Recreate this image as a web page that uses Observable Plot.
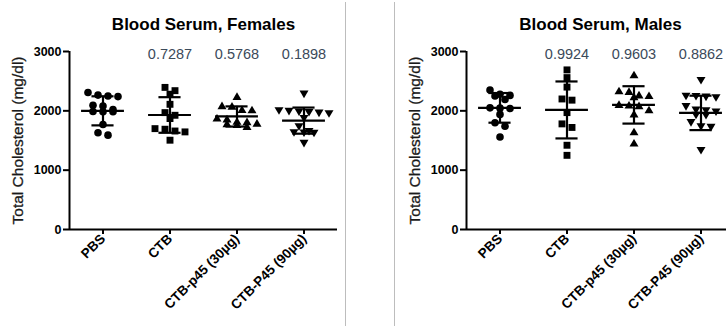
<!DOCTYPE html>
<html>
<head>
<meta charset="utf-8">
<script src="https://cdn.jsdelivr.net/npm/d3@7"></script>
<script src="https://cdn.jsdelivr.net/npm/@observablehq/plot@0.6"></script>
<style>
  body { margin: 0; background: white; }
  #wrap { position: relative; width: 726px; height: 328px; overflow: hidden; background: white; font-family: "Liberation Sans", Arial, sans-serif; }
  .panel { position: absolute; top: 0; width: 345px; height: 328px; }
  .panel svg { max-width: none !important; }
  .divider { position: absolute; top: 2px; width: 1px; height: 324px; background: #bdbdbd; }
</style>
</head>
<body>
<div id="wrap">
  <div class="panel" id="left" style="left:0px"></div>
  <div class="divider" style="left:345px"></div>
  <div class="divider" style="left:394px"></div>
  <div class="panel" id="right" style="left:397px"></div>
</div>
<script>
// ---- data ----
const groups = ["PBS", "CTB", "CTB-p45 (30\u00b5g)", "CTB-P45 (90\u00b5g)"];
const yTicks = [0, 1000, 2000, 3000];

const femalesPBS = [2310, 2265, 2250, 2240, 2095, 2080, 2020, 1990, 1985, 1985, 1770, 1630, 1590];
const femalesCTB = [2395, 2340, 2280, 2110, 1970, 1925, 1870, 1700, 1690, 1660, 1645, 1505];
const femalesP30 = [2235, 2080, 2070, 2015, 2010, 1870, 1855, 1815, 1810, 1785, 1775, 1760, 1730];
const femalesP90 = [2290, 2010, 2000, 1990, 1980, 1970, 1960, 1880, 1740, 1660, 1640, 1635, 1630, 1460];
const femaleMeans = [2000, 1930, 1905, 1835];
const femaleSDs = [245, 300, 170, 220];
const femalePValues = ["", "0.7287", "0.5768", "0.1898"];

const malesPBS = [2350, 2280, 2260, 2250, 2190, 2050, 2045, 2040, 1940, 1800, 1740, 1560];
const malesCTB = [2690, 2560, 2400, 2200, 2180, 1970, 1780, 1720, 1420, 1250];
const malesP30 = [2600, 2330, 2320, 2260, 2250, 2230, 2100, 2090, 2080, 2010, 1940, 1640, 1450];
const malesP90 = [2520, 2255, 2250, 2240, 2230, 2080, 2020, 2010, 1990, 1935, 1930, 1810, 1740, 1730, 1340];
const maleMeans = [2050, 2015, 2100, 1965];
const maleSDs = [250, 480, 315, 290];
const malePValues = ["", "0.9924", "0.9603", "0.8862"];

// ---- symbols ----
const triUp = { draw(ctx, size) { const r = Math.sqrt(size / Math.PI); const w = r * 1.15, h = r * 1.95;
  ctx.moveTo(0, -h * 0.6); ctx.lineTo(w, h * 0.4); ctx.lineTo(-w, h * 0.4); ctx.closePath(); } };
const triDown = { draw(ctx, size) { const r = Math.sqrt(size / Math.PI); const w = r * 1.15, h = r * 1.95;
  ctx.moveTo(0, h * 0.6); ctx.lineTo(w, -h * 0.4); ctx.lineTo(-w, -h * 0.4); ctx.closePath(); } };
const symbols = ["circle", "square", triUp, triDown];
const radii = [3.8, 3.9, 3.9, 3.9];

const W = 345, H = 328, ML = 69, MR = 8, MT = 51, MB = 99;
const bandPx = (W - ML - MR) / 4;
const pxPerUnit = (H - MT - MB) / 3000;
const font = "'Liberation Sans', Arial, sans-serif";

// GraphPad-like scatter: points with similar values share a row and are spread sideways
function spread(values, gi) {
  const order = values.map((v, i) => i).sort((a, b) => values[b] - values[a]);
  const rowH = 5.5 / pxPerUnit, spacing = 10;
  const rows = [];
  for (const i of order) {
    const row = rows[rows.length - 1];
    if (row && values[row[0]] - values[i] < rowH) row.push(i); else rows.push([i]);
  }
  const out = [];
  for (const row of rows) {
    const k = row.length;
    row.forEach((i, j) => {
      const off = (j - (k - 1) / 2) * spacing / bandPx;
      out.push({ g: gi, x: gi + off, value: values[i] });
    });
  }
  return out;
}

function panel(title, series, means, sds, pvals) {
  const stats = means.map((m, i) => ({ i, mean: m, lo: m - sds[i], hi: m + sds[i] }));
  const pts = series.map((vals, gi) => spread(vals, gi));
  const pData = pvals.map((p, i) => ({ i, p })).filter(d => d.p);
  return Plot.plot({
    width: W, height: H,
    marginLeft: ML, marginRight: MR, marginTop: MT, marginBottom: MB,
    style: { fontFamily: font, background: "transparent", color: "black", overflow: "visible" },
    x: { domain: [-0.5, 3.5] },
    y: { domain: [0, 3000] },
    marks: [
      ...pts.map((p, gi) => Plot.dot(p, { x: "x", y: "value", symbol: () => symbols[gi], r: radii[gi], fill: "black", stroke: "none" })),
      Plot.ruleY(stats, { y: "mean", x1: d => d.i - 0.32, x2: d => d.i + 0.32, stroke: "black", strokeWidth: 2.2 }),
      Plot.ruleY(stats, { y: "hi", x1: d => d.i - 0.165, x2: d => d.i + 0.165, stroke: "black", strokeWidth: 2.2 }),
      Plot.ruleY(stats, { y: "lo", x1: d => d.i - 0.165, x2: d => d.i + 0.165, stroke: "black", strokeWidth: 2.2 }),
      Plot.ruleX(stats, { x: "i", y1: "lo", y2: "hi", stroke: "black", strokeWidth: 2.2 }),
      Plot.ruleY([0], { stroke: "black", strokeWidth: 2 }),
      Plot.ruleX([-0.5], { stroke: "black", strokeWidth: 2 }),
      Plot.axisY({ ticks: yTicks, tickFormat: d => String(d), tickSize: 6, tickPadding: 2, strokeWidth: 2,
        fontSize: 12.5, fontWeight: "bold", label: null }),
      Plot.axisX({ ticks: [0, 1, 2, 3], tickFormat: i => groups[i], tickSize: 5, tickPadding: 2, strokeWidth: 2,
        tickRotate: -45, fontSize: 13.5, fontWeight: "bold", label: null }),
      Plot.text(["Total Cholesterol (mg/dl)"], { frameAnchor: "left", dx: -51, rotate: -90, textAnchor: "middle",
        lineAnchor: "middle", fontSize: 15.5, fill: "#1a1a1a", stroke: "#1a1a1a", strokeWidth: 0.3 }),
      Plot.text([title], { frameAnchor: "top", dy: -27, lineAnchor: "middle", fontSize: 17, fontWeight: "bold" }),
      Plot.text(pData, { x: "i", text: "p", frameAnchor: "top", dy: 2.5, lineAnchor: "middle", fontSize: 14.5, fill: "#3b4a5a" })
    ]
  });
}

document.getElementById("left").appendChild(
  panel("Blood Serum, Females", [femalesPBS, femalesCTB, femalesP30, femalesP90], femaleMeans, femaleSDs, femalePValues));
document.getElementById("right").appendChild(
  panel("Blood Serum, Males", [malesPBS, malesCTB, malesP30, malesP90], maleMeans, maleSDs, malePValues));
</script>
</body>
</html>
